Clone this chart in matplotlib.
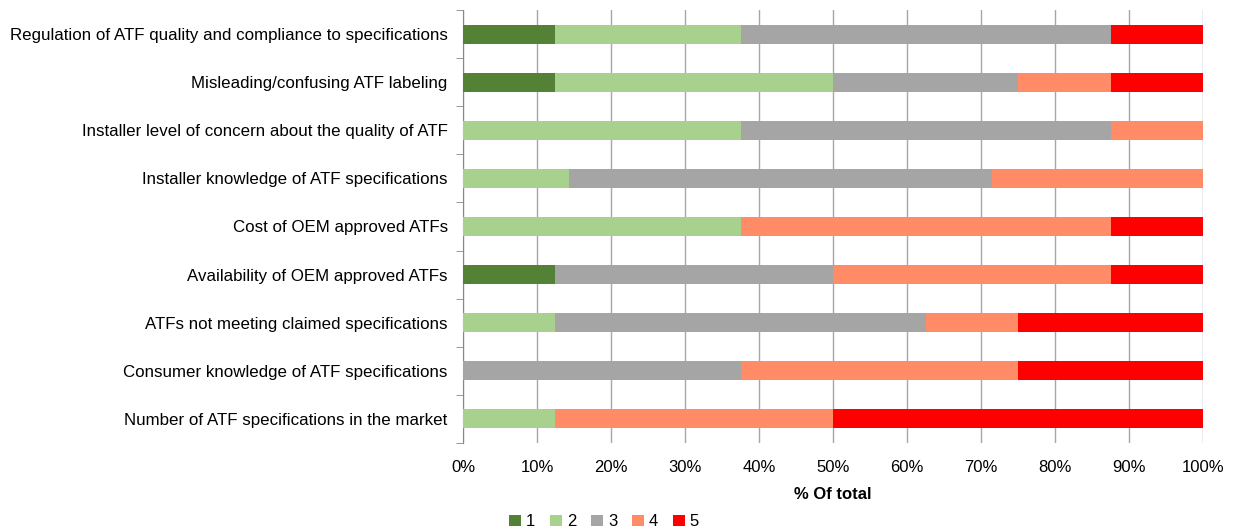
import numpy as np
import matplotlib
matplotlib.use("Agg")
from matplotlib import pyplot as plt

plt.rcParams["font.family"] = ["Liberation Sans", "DejaVu Sans"]

categories = [
    "Regulation of ATF quality and compliance to specifications",
    "Misleading/confusing ATF labeling",
    "Installer level of concern about the quality of ATF",
    "Installer knowledge of ATF specifications",
    "Cost of OEM approved ATFs",
    "Availability of OEM approved ATFs",
    "ATFs not meeting claimed specifications",
    "Consumer knowledge of ATF specifications",
    "Number of ATF specifications in the market",
]

# share of responses per rating (fractions)
r1 = [0.125, 0.125, 0.0, 0.0, 0.0, 0.125, 0.0, 0.0, 0.0]
r2 = [0.25, 0.375, 0.375, 1/7, 0.375, 0.0, 0.125, 0.0, 0.125]
r3 = [0.5, 0.25, 0.5, 4/7, 0.0, 0.375, 0.5, 0.375, 0.0]
r4 = [0.0, 0.125, 0.125, 2/7, 0.5, 0.375, 0.125, 0.375, 0.375]
r5 = [0.125, 0.125, 0.0, 0.0, 0.125, 0.125, 0.25, 0.25, 0.5]

series = [r1, r2, r3, r4, r5]
labels = ["1", "2", "3", "4", "5"]
colors = ["#538135", "#A9D18E", "#A5A5A5", "#FF8B67", "#FF0000"]

fig = plt.figure(figsize=(12.33, 5.31), dpi=100)
ax = fig.add_axes([0.3755, 0.166, 0.6002, 0.815])

y = np.arange(len(categories))[::-1]
left = np.zeros(len(categories))
for vals, lab, c in zip(series, labels, colors):
    vals = np.array(vals)
    ax.barh(y, vals, left=left, height=0.4, color=c, label=lab, zorder=3)
    left += vals

ax.set_xlim(0, 1)
ax.set_ylim(-0.5, len(categories) - 0.5)
ax.set_xticks(np.linspace(0, 1, 11))
ax.set_xticklabels(["%d%%" % v for v in range(0, 101, 10)], fontsize=12)
ax.set_yticks(y)
ax.set_yticklabels(categories, fontsize=12.2)
ax.set_yticks(np.arange(len(categories) + 1) - 0.5, minor=True)
ax.tick_params(axis="y", which="major", length=0, pad=11)
ax.tick_params(axis="y", which="minor", length=5, color="#888888")
ax.tick_params(axis="x", length=0, pad=12)
ax.grid(axis="x", color="#A6A6A6", linewidth=1, zorder=0)

for s in ["top", "right", "bottom"]:
    ax.spines[s].set_visible(False)
ax.spines["left"].set_color("#888888")

ax.set_xlabel("% Of total", fontsize=12, fontweight="bold", labelpad=9)

fig.legend(loc="lower center", bbox_to_anchor=(0.49, -0.025), ncol=5, frameon=False,
           fontsize=12, handlelength=0.7, handleheight=0.7, handletextpad=0.3,
           columnspacing=0.9)

fig.savefig("out.png", dpi=100)
